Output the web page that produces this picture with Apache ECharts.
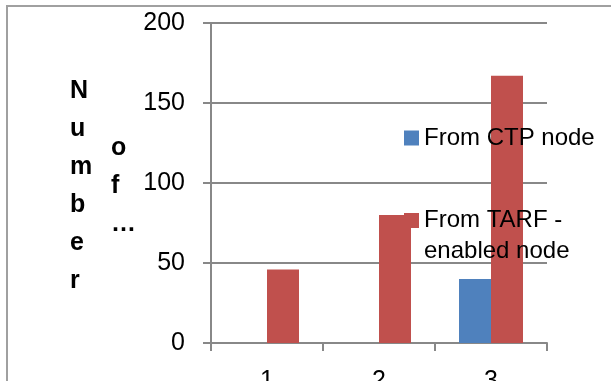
<!DOCTYPE html>
<html>
<head>
<meta charset="utf-8">
<script src="https://cdn.jsdelivr.net/npm/echarts@6/dist/echarts.min.js"></script>
<style>
  html, body { margin: 0; padding: 0; background: #fff; }
  #chart { width: 611px; height: 381px; }
</style>
</head>
<body>
<div id="chart"></div>
<script>
// Packet counts per run, split by origin of the traffic
const categories = ['1', '2', '3'];
const ctpNode = [0, 0, 40];
const tarfNode = [46, 80, 167];
const yTicks = [0, 50, 100, 150, 200];
const seriesNames = ['From CTP node', 'From TARF - enabled node'];

const FONT = '"Liberation Sans", Arial, sans-serif';
const AXIS_GREY = '#888888';

const chart = echarts.init(document.getElementById('chart'), null, { renderer: 'canvas' });

chart.setOption({
  animation: false,
  backgroundColor: '#ffffff',
  textStyle: { fontFamily: FONT },
  grid: {
    left: 211, right: 64, top: 23, bottom: 38,
    containLabel: false,
    outerBoundsMode: 'none'
  },
  xAxis: {
    type: 'category',
    data: categories,
    axisLine: { lineStyle: { color: AXIS_GREY, width: 2 } },
    axisTick: { show: true, length: 8, lineStyle: { color: AXIS_GREY, width: 2 } },
    axisLabel: { color: '#000', fontSize: 25, fontFamily: FONT, margin: 26 }
  },
  yAxis: {
    type: 'value',
    min: yTicks[0],
    max: yTicks[yTicks.length - 1],
    interval: yTicks[1] - yTicks[0],
    axisLine: { show: true, lineStyle: { color: AXIS_GREY, width: 2 } },
    axisTick: { show: true, length: 8, lineStyle: { color: AXIS_GREY, width: 2 } },
    splitLine: { show: true, lineStyle: { color: AXIS_GREY, width: 2 } },
    axisLabel: { color: '#000', fontSize: 25, fontFamily: FONT, margin: 26 }
  },
  legend: [
    {
      data: [seriesNames[0]],
      left: 404,
      top: 126,
      padding: 0,
      itemWidth: 15,
      itemHeight: 15,
      icon: 'rect',
      textStyle: { color: '#000', fontSize: 24, fontFamily: FONT }
    },
    {
      data: [seriesNames[1]],
      left: 404,
      top: 174,
      padding: 0,
      itemWidth: 15,
      itemHeight: 15,
      icon: 'rect',
      // leading blank line keeps the first text line level with the swatch
      formatter: () => '\nFrom TARF -\nenabled node',
      textStyle: { color: '#000', fontSize: 24, fontFamily: FONT, lineHeight: 31 }
    }
  ],
  graphic: [
    {
      type: 'rect',
      shape: { x: 7, y: 6, width: 800, height: 600 },
      style: { fill: 'none', stroke: '#a0a0a0', lineWidth: 2 },
      silent: true
    },
    {
      type: 'text',
      left: 70,
      top: 72,
      style: {
        text: 'N\nu\nm\nb\ne\nr',
        font: 'bold 25px ' + FONT,
        lineHeight: 38,
        align: 'center',
        fill: '#000'
      }
    },
    {
      type: 'text',
      left: 111,
      top: 129,
      style: {
        text: 'o\nf\n…',
        font: 'bold 25px ' + FONT,
        lineHeight: 38,
        align: 'center',
        fill: '#000'
      }
    }
  ],
  series: [
    {
      name: seriesNames[0],
      type: 'bar',
      data: ctpNode,
      barWidth: 32,
      barGap: '0%',
      itemStyle: { color: '#4F81BD' }
    },
    {
      name: seriesNames[1],
      type: 'bar',
      data: tarfNode,
      barWidth: 32,
      barGap: '0%',
      itemStyle: { color: '#C0504D' }
    }
  ]
});
</script>
</body>
</html>
